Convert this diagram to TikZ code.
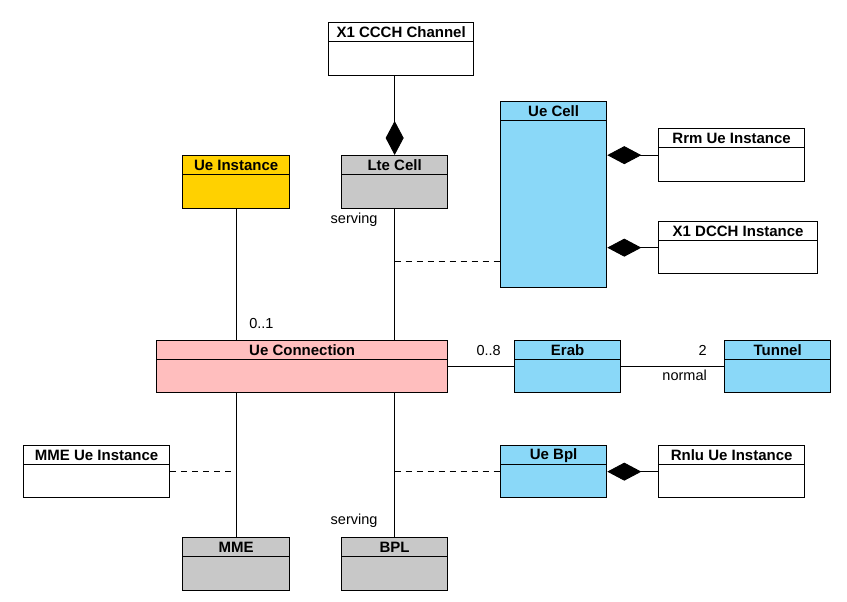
\documentclass[tikz,border=0pt]{standalone}
\usepackage{fontspec}
\setmainfont{Liberation Sans}
\usepackage{tikz}
\usetikzlibrary{positioning, arrows.meta, calc}

\definecolor{clsgray}{RGB}{200,200,200}
\definecolor{clsblue}{RGB}{138,216,248}
\definecolor{clsyellow}{RGB}{255,209,0}
\definecolor{clspink}{RGB}{255,190,190}

\begin{document}
\begin{tikzpicture}[
    x=1pt, y=-1pt,
    every node/.style={font=\fontsize{15}{17}\selectfont},
    umlbox/.style={draw, line width=1.3pt, inner sep=0pt, anchor=north west, fill=white},
    umltitle/.style={draw, line width=1.3pt, anchor=north, minimum height=19pt, inner sep=0pt, fill=white, font=\fontsize{15}{17}\selectfont\bfseries},
    assoc/.style={draw, line width=0.9pt},
    linkline/.style={draw, line width=0.9pt, dash pattern=on 6pt off 5pt},
    owns/.style={assoc, -{Diamond[length=34pt, width=18pt]}},
    role/.style={font=\fontsize{14.5}{16}\selectfont, inner sep=1pt},
]
\useasboundingbox (0,0) rectangle (847,602);

% === Top: channel and cells ===
\node[umlbox, minimum width=145pt, minimum height=53pt] (ccch) at (328,22) {};
\node[umltitle, minimum width=145pt] (ccchT) at (ccch.north) {X1 CCCH Channel};

\node[umlbox, fill=clsgray, minimum width=106pt, minimum height=53pt] (ltecell) at (341,155) {};
\node[umltitle, fill=clsgray, minimum width=106pt] (ltecellT) at (ltecell.north) {Lte Cell};

\node[umlbox, fill=clsyellow, minimum width=107pt, minimum height=53pt] (ueinst) at (182,155) {};
\node[umltitle, fill=clsyellow, minimum width=107pt] (ueinstT) at (ueinst.north) {Ue Instance};

\node[umlbox, fill=clsblue, minimum width=106pt, minimum height=186pt] (uecell) at (500,101) {};
\node[umltitle, fill=clsblue, minimum width=106pt] (uecellT) at (uecell.north) {Ue Cell};

\node[umlbox, minimum width=146pt, minimum height=53pt] (rrm) at (658,128) {};
\node[umltitle, minimum width=146pt] (rrmT) at (rrm.north) {Rrm Ue Instance};

\node[umlbox, minimum width=159pt, minimum height=52pt] (dcch) at (658,221) {};
\node[umltitle, minimum width=159pt] (dcchT) at (dcch.north) {X1 DCCH Instance};

% === Middle row ===
\node[umlbox, fill=clspink, minimum width=291pt, minimum height=52pt] (uecon) at (156,340) {};
\node[umltitle, fill=clspink, minimum width=291pt] (ueconT) at (uecon.north) {Ue Connection};

\node[umlbox, fill=clsblue, minimum width=106pt, minimum height=52pt] (erab) at (514,340) {};
\node[umltitle, fill=clsblue, minimum width=106pt] (erabT) at (erab.north) {Erab};

\node[umlbox, fill=clsblue, minimum width=106pt, minimum height=52pt] (tunnel) at (724,340) {};
\node[umltitle, fill=clsblue, minimum width=106pt] (tunnelT) at (tunnel.north) {Tunnel};

% === Bottom ===
\node[umlbox, minimum width=146pt, minimum height=52pt] (mmeue) at (23,445) {};
\node[umltitle, minimum width=146pt] (mmeueT) at (mmeue.north) {MME Ue Instance};

\node[umlbox, fill=clsblue, minimum width=106pt, minimum height=52pt] (uebpl) at (500,445) {};
\node[umltitle, fill=clsblue, minimum width=106pt] (uebplT) at (uebpl.north) {Ue Bpl};

\node[umlbox, minimum width=146pt, minimum height=52pt] (rnlu) at (658,445) {};
\node[umltitle, minimum width=146pt] (rnluT) at (rnlu.north) {Rnlu Ue Instance};

\node[umlbox, fill=clsgray, minimum width=107pt, minimum height=53pt] (mme) at (182,537) {};
\node[umltitle, fill=clsgray, minimum width=107pt] (mmeT) at (mme.north) {MME};

\node[umlbox, fill=clsgray, minimum width=106pt, minimum height=53pt] (bpl) at (341,537) {};
\node[umltitle, fill=clsgray, minimum width=106pt] (bplT) at (bpl.north) {BPL};

% === Compositions ===
\draw[owns] (ltecell.north |- ccch.south) -- (ltecell.north);
\draw[owns] (rrm.west) -- (rrm.west -| uecell.east);
\draw[owns] (dcch.west) -- (dcch.west -| uecell.east);
\draw[owns] (rnlu.west) -- (rnlu.west -| uebpl.east);

% === Associations ===
\draw[assoc] (ueinst.south) -- (ueinst.south |- uecon.north);
\draw[assoc] (ltecell.south) -- (ltecell.south |- uecon.north);
\draw[assoc] (mme.north |- uecon.south) -- (mme.north);
\draw[assoc] (bpl.north |- uecon.south) -- (bpl.north);
\draw[assoc] (uecon.east) -- (erab.west);
\draw[assoc] (erab.east) -- (tunnel.west);

% association class links
\coordinate (celllink) at ($(ltecell.south)!0.4!(ltecell.south |- uecon.north)$);
\coordinate (mmelink) at (mmeue.east -| mme.north);
\coordinate (bpllink) at (uebpl.west -| bpl.north);
\draw[linkline] (celllink) -- (celllink -| uecell.west);
\draw[linkline] (mmeue.east) -- ([xshift=-5pt]mmelink);
\draw[linkline] (bpllink) -- (uebpl.west);

% === Role and multiplicity labels ===
\node[role, anchor=north east] (srv1) at ([xshift=-16pt, yshift=-2pt]ltecell.south) {serving};
\node[role, anchor=south west] (mult1) at ([xshift=12pt, yshift=10pt]ueinst.south |- uecon.north) {0..1};
\node[role, anchor=south east] (mult2) at ([xshift=-12pt, yshift=10pt]erab.west) {0..8};
\node[role, anchor=south east] (mult3) at ([xshift=-16pt, yshift=10pt]tunnel.west) {2};
\node[role, anchor=north east] (role2) at ([xshift=-16pt, yshift=-2pt]tunnel.west) {normal};
\node[role, anchor=south east] (srv2) at ([xshift=-16pt, yshift=8pt]bpl.north) {serving};

\end{tikzpicture}
\end{document}
